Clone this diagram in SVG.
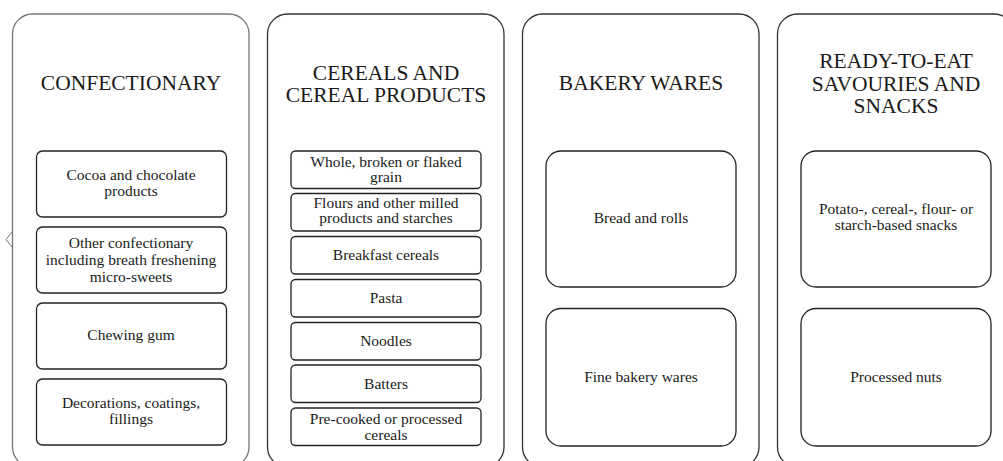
<svg xmlns="http://www.w3.org/2000/svg" width="1003" height="461" viewBox="0 0 1003 461">
<style>
.panel{fill:none;stroke:#333;stroke-width:1.3}
.box{fill:#fff;stroke:#222;stroke-width:1.3}
.title{font-family:'Liberation Serif','Times New Roman',Times,'DejaVu Serif',serif;font-size:21.5px;fill:#1a1a1a;text-anchor:middle}
.lbl{font-family:'Liberation Serif','Times New Roman',Times,'DejaVu Serif',serif;font-size:15.5px;fill:#1a1a1a;text-anchor:middle}
</style>
<rect width="1003" height="461" fill="#fff"/>
<g id="confectionary">
<rect class="panel" x="12.5" y="14" width="236.5" height="453" rx="20" style="stroke:#777"/>
<text class="title" x="131" y="90">CONFECTIONARY</text>
<g id="c1"><rect class="box" x="36.5" y="151" width="190" height="66" rx="6"/><text class="lbl" x="131" y="179.5">Cocoa and chocolate</text><text class="lbl" x="131" y="195.5">products</text></g>
<g id="c2"><rect class="box" x="36.5" y="227" width="190" height="66" rx="6"/><text class="lbl" x="131" y="247.5">Other confectionary</text><text class="lbl" x="131" y="264.5">including breath freshening</text><text class="lbl" x="131" y="281.5">micro-sweets</text></g>
<g id="c3"><rect class="box" x="36.5" y="303" width="190" height="66" rx="6"/><text class="lbl" x="131" y="340">Chewing gum</text></g>
<g id="c4"><rect class="box" x="36.5" y="379" width="190" height="66" rx="6"/><text class="lbl" x="131" y="407.5">Decorations, coatings,</text><text class="lbl" x="131" y="424">fillings</text></g>
<polyline points="12,232 6,239.5 12,247" fill="none" stroke="#777" stroke-width="1"/>
</g>
<g id="cereals">
<rect class="panel" x="267.5" y="14" width="236.5" height="453" rx="20"/>
<text class="title" x="386" y="80">CEREALS AND</text>
<text class="title" x="386" y="102">CEREAL PRODUCTS</text>
<g id="r1"><rect class="box" x="291" y="151" width="190" height="37.5" rx="4.5"/><text class="lbl" x="386" y="166.5">Whole, broken or flaked</text><text class="lbl" x="386" y="181.5">grain</text></g>
<g id="r2"><rect class="box" x="291" y="193.5" width="190" height="37.5" rx="4.5"/><text class="lbl" x="386" y="207.5">Flours and other milled</text><text class="lbl" x="386" y="223">products and starches</text></g>
<g id="r3"><rect class="box" x="291" y="236.5" width="190" height="37.5" rx="4.5"/><text class="lbl" x="386" y="260">Breakfast cereals</text></g>
<g id="r4"><rect class="box" x="291" y="279.5" width="190" height="37.5" rx="4.5"/><text class="lbl" x="386" y="302.7">Pasta</text></g>
<g id="r5"><rect class="box" x="291" y="322.5" width="190" height="37.5" rx="4.5"/><text class="lbl" x="386" y="345.5">Noodles</text></g>
<g id="r6"><rect class="box" x="291" y="365" width="190" height="37.5" rx="4.5"/><text class="lbl" x="386" y="388.5">Batters</text></g>
<g id="r7"><rect class="box" x="291" y="408" width="190" height="37.5" rx="4.5"/><text class="lbl" x="386" y="423.5">Pre-cooked or processed</text><text class="lbl" x="386" y="439.5">cereals</text></g>
</g>
<g id="bakery">
<rect class="panel" x="522.5" y="14" width="236.5" height="453" rx="20"/>
<text class="title" x="641" y="90">BAKERY WARES</text>
<g id="b1"><rect class="box" x="546" y="151" width="190" height="136" rx="15"/><text class="lbl" x="641" y="223">Bread and rolls</text></g>
<g id="b2"><rect class="box" x="546" y="308.5" width="190" height="137.5" rx="15"/><text class="lbl" x="641" y="382">Fine bakery wares</text></g>
</g>
<g id="snacks">
<rect class="panel" x="777.5" y="14" width="236.5" height="453" rx="20"/>
<text class="title" x="896" y="68">READY-TO-EAT</text>
<text class="title" x="896" y="91">SAVOURIES AND</text>
<text class="title" x="896" y="113">SNACKS</text>
<g id="s1"><rect class="box" x="801" y="151" width="190" height="136" rx="15"/><text class="lbl" x="896" y="213.5">Potato-, cereal-, flour- or</text><text class="lbl" x="896" y="229.5">starch-based snacks</text></g>
<g id="s2"><rect class="box" x="801" y="308.5" width="190" height="137.5" rx="15"/><text class="lbl" x="896" y="382">Processed nuts</text></g>
</g>
<g id="connectors"/>
</svg>
